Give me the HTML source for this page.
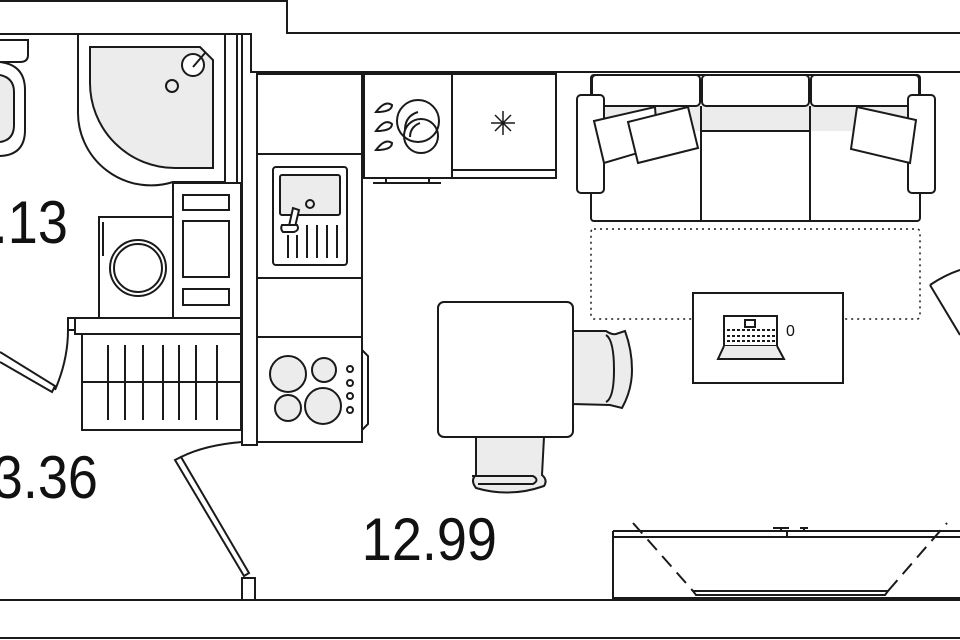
<!DOCTYPE html>
<html><head><meta charset="utf-8"><style>
html,body{margin:0;padding:0;background:#fff;width:960px;height:640px;overflow:hidden}
svg{display:block}
text{font-family:"Liberation Sans",sans-serif;fill:#111}
</style></head><body>
<svg width="960" height="640" viewBox="0 0 960 640" xmlns="http://www.w3.org/2000/svg">
<g fill="none" stroke="#1a1a1a" stroke-width="2">
<path d="M0 1H287V33H960"/>
<path d="M0 34H251V72H960"/>
<path d="M0 600H960M0 638H960"/>
<path d="M242 34V445H257V74"/>
<path d="M251 34V72"/>
<path d="M225 34V182M237 34V182"/>
<path d="M0 40H28V55Q28 62 20 62H0"/>
<path d="M0 62Q25 65 25 90V130Q25 155 0 156" />
<path d="M0 75Q14 78 14 92V125Q14 140 0 142" fill="#ececec"/>
<path d="M78 34V110A73 73 0 0 0 173 182H225"/>
<path d="M90 47H200L213 60V168H175A85 85 0 0 1 90 83Z" fill="#ececec"/>
<circle cx="193" cy="65" r="11" fill="#fff"/>
<path d="M193 67L205 53"/>
<circle cx="172" cy="86" r="6"/>
<rect x="99" y="217" width="74" height="101"/>
<path d="M103 222V256"/>
<circle cx="138" cy="268" r="28"/><circle cx="138" cy="268" r="24"/>
<rect x="173" y="183" width="68" height="135"/>
<rect x="183" y="195" width="46" height="15"/>
<rect x="183" y="221" width="46" height="56"/>
<rect x="183" y="289" width="46" height="16"/>
<path d="M75 318H241V334H75Z"/>
<rect x="82" y="334" width="159" height="96"/>
<path d="M82 382H241M108 345V420M125 345V420M143 345V420M163 345V420M179 345V420M196 345V420M217 345V420"/>
<path d="M0 352L55 386L52 392L0 362"/>
<path d="M55 390Q68 360 68 330"/>
<rect x="68" y="318" width="7" height="12"/>
<rect x="257" y="74" width="105" height="368"/>
<path d="M257 154H362M257 278H362M257 337H362"/>
<rect x="273" y="167" width="74" height="98" rx="3"/>
<rect x="280" y="175" width="60" height="40" rx="2" fill="#ececec"/>
<circle cx="310" cy="204" r="4"/>
<path d="M289 226L293 208L299 210L295 227Z" fill="#fff"/>
<path d="M282 225H297Q300 230 294 232H283Q280 229 282 225Z" fill="#fff"/>
<path d="M288 235V258M297 235V258M307 225V258M317 225V258M327 225V258M337 225V258"/>
<circle cx="288" cy="374" r="18" fill="#ececec"/>
<circle cx="324" cy="370" r="12" fill="#ececec"/>
<circle cx="288" cy="408" r="13" fill="#ececec"/>
<circle cx="323" cy="406" r="18" fill="#ececec"/>
<circle cx="350" cy="369" r="3"/><circle cx="350" cy="383" r="3"/><circle cx="350" cy="396" r="3"/><circle cx="350" cy="410" r="3"/>
<path d="M362 350L368 356V424L362 430"/>
<rect x="364" y="74" width="88" height="104"/>
<rect x="452" y="74" width="104" height="104"/>
<path d="M452 170H556"/>
<path d="M373 183H441M386 178V183M429 178V183"/>
<circle cx="418" cy="121" r="21"/><circle cx="421" cy="136" r="17"/>
<path d="M405 130Q405 116 418 112M410 137Q410 127 420 123"/>
<path d="M376 112Q385 100 392 105Q392 112 376 112Z"/>
<path d="M376 131Q385 118 392 124Q392 131 376 131Z"/>
<path d="M376 150Q385 138 392 143Q392 150 376 150Z"/>
<path d="M491 123H515M503 111V135M495 115L511 131M511 115L495 131" stroke-width="1.5"/>
<rect x="591" y="75" width="329" height="146" rx="3"/>
<rect x="591" y="106" width="329" height="25" fill="#ececec" stroke="none"/>
<path d="M701 106V221M810 106V221M700 131H810"/>
<rect x="592" y="75" width="108" height="31" rx="4" fill="#fff"/>
<rect x="702" y="75" width="107" height="31" rx="4" fill="#fff"/>
<rect x="811" y="75" width="108" height="31" rx="4" fill="#fff"/>
<rect x="577" y="95" width="27" height="98" rx="4" fill="#fff"/>
<rect x="908" y="95" width="27" height="98" rx="4" fill="#fff"/>
<path d="M594 121L655 107L658 147L604 163Z" fill="#fff"/>
<path d="M628 122L688 107L698 148L638 163Z" fill="#fff"/>
<path d="M857 107L916 120L910 163L851 149Z" fill="#fff"/>
<rect x="591" y="229" width="329" height="90" rx="3" stroke-dasharray="2 4" stroke-width="1.5"/>
<rect x="693" y="293" width="150" height="90" fill="#fff"/>
<path d="M724 316H777V346H724Z"/>
<path d="M727 330H775M727 336H775M727 341H775" stroke-dasharray="3 2"/>
<rect x="745" y="320" width="10" height="7"/>
<path d="M724 346L718 359H784L777 346" fill="#ececec"/>
<text x="786" y="336" font-size="16" stroke="none">0</text>
<path d="M573 331H606Q612 335 616 334L625 331Q632 350 632 370Q632 390 622 408L610 405L573 404Z" fill="#ececec"/>
<path d="M606 335Q614 340 614 370Q614 398 606 402"/>
<path d="M476 437H544L542 475Q548 480 544 486Q510 498 476 488Q470 480 476 475Z" fill="#ececec"/>
<path d="M472 476H533Q540 480 533 484H478"/>
<rect x="438" y="302" width="135" height="135" rx="6" fill="#fff"/>
<path d="M613 531H960M613 537H960M613 531V598H960"/>
<path d="M787 531V537M773 528H789M781 528V531M800 528H808M804 528V531"/>
<path d="M633 523L693 591H888L947 523" stroke-dasharray="14 8"/>
<path d="M693 591H888L885 595H696Z"/>
<path d="M175 460L244 576L249 573L181 457Z"/>
<path d="M181 457Q205 445 242 442"/>
<rect x="242" y="578" width="13" height="22"/>
<path d="M930 285Q945 275 960 270M930 285L960 335"/>
</g>
<g font-size="60" transform="scale(0.9,1)">
<text x="-8" y="243">.13</text>
<text x="-8" y="498">3.36</text>
<text x="402" y="560">12.99</text>
</g>
</svg>
</body></html>
